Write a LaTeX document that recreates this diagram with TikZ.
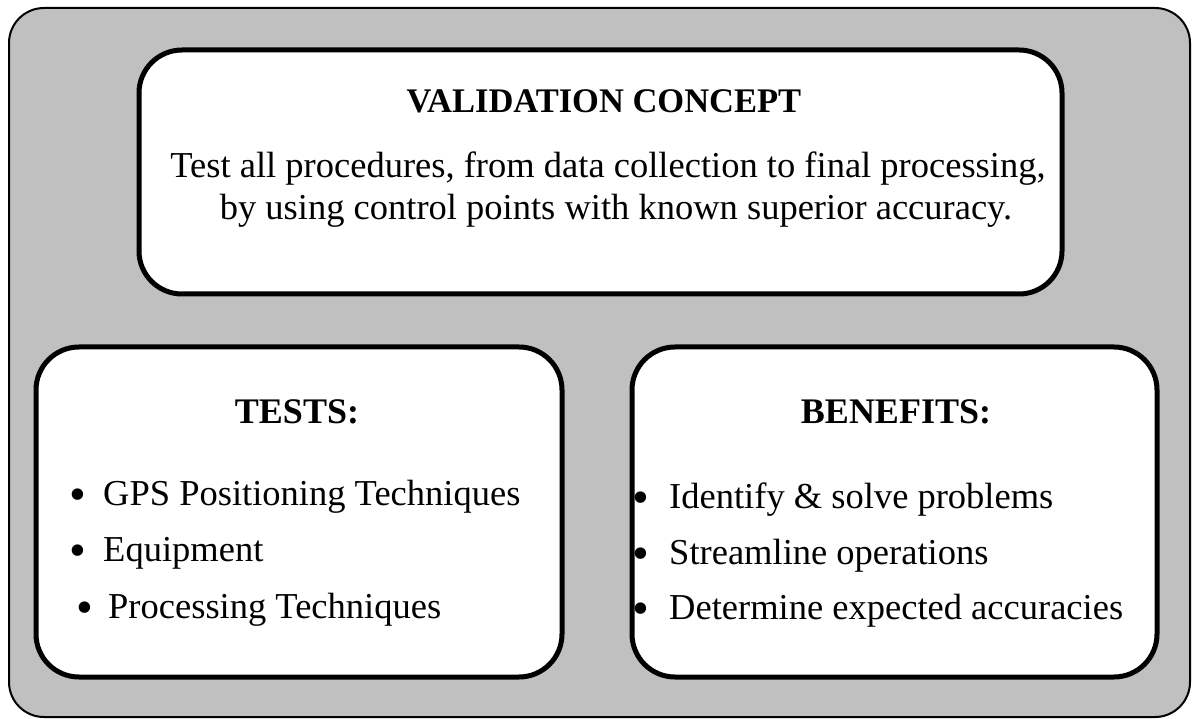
\documentclass[tikz,border=0pt]{standalone}
\usepackage{fontspec}
\setmainfont{Liberation Serif}
\definecolor{panelgray}{HTML}{C0C0C0}
\begin{document}
\begin{tikzpicture}[x=1pt,y=-1pt,
  frame/.style={draw=black, line width=2pt, fill=panelgray, rounded corners=35pt, inner sep=0pt, outer sep=0pt},
  panel/.style={draw=black, line width=5pt, fill=white, rounded corners=43pt, inner sep=0pt, outer sep=0pt},
  head/.style={font=\fontsize{36}{42}\selectfont\bfseries, anchor=base, inner sep=0pt},
  title/.style={font=\fontsize{34.5}{42}\selectfont\bfseries, anchor=base, inner sep=0pt},
  body/.style={font=\fontsize{36.5}{42}\selectfont, anchor=base, inner sep=0pt},
  item/.style={font=\fontsize{36.5}{42}\selectfont, anchor=base west, inner sep=0pt},
  dot/.style={font=\fontsize{48}{50}\selectfont, anchor=base, inner sep=0pt}]
\useasboundingbox (0,0) rectangle (1192,719);
\node[frame, minimum width=1181pt, minimum height=709pt] (outer) at (599.5,362.5) {};
\node[panel, minimum width=923pt, minimum height=244pt] (concept) at (600.5,172) {};
\node[panel, minimum width=526pt, minimum height=330pt] (tests) at (299,512) {};
\node[panel, minimum width=525pt, minimum height=330pt] (benefits) at (894.5,512) {};

\node[title] (ctitle) at (604,113) {VALIDATION CONCEPT};
\node[body] (cline1) at (608,178) {Test all procedures, from data collection to final processing,};
\node[body] (cline2) at (616,220) {by using control points with known superior accuracy.};

\node[head] (ttitle) at (297,423) {TESTS:};
\node[dot] (tb1) at (78,510) {\textbullet};
\node[item] (ti1) at (103,505) {GPS Positioning Techniques};
\node[dot] (tb2) at (78,566) {\textbullet};
\node[item] (ti2) at (103,561) {Equipment};
\node[dot] (tb3) at (85,623) {\textbullet};
\node[item] (ti3) at (108,618) {Processing Techniques};

\node[head] (btitle) at (896,423) {BENEFITS:};
\node[dot] (bb1) at (641,513) {\textbullet};
\node[item] (bi1) at (669,508) {Identify \& solve problems};
\node[dot] (bb2) at (641,569) {\textbullet};
\node[item] (bi2) at (669,564) {Streamline operations};
\node[dot] (bb3) at (641,624) {\textbullet};
\node[item] (bi3) at (669,619) {Determine expected accuracies};
\end{tikzpicture}
\end{document}
